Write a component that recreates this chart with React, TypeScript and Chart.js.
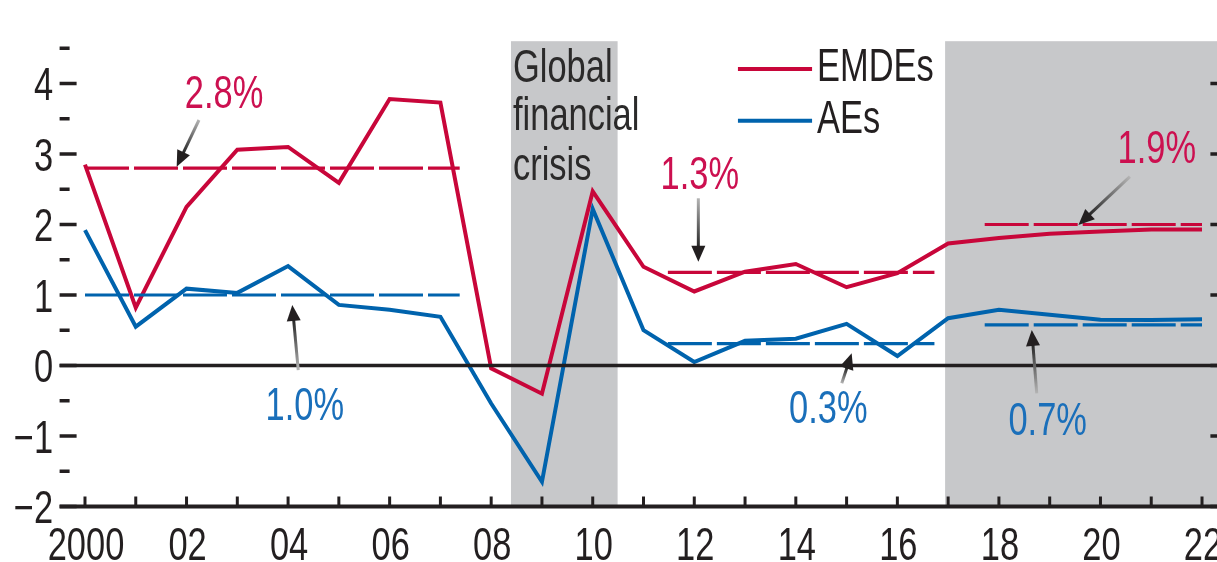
import React, { useEffect, useRef } from "react";
import { Chart, registerables } from "chart.js";

Chart.register(...registerables);

// ---------- data ----------
const years = [
  2000, 2001, 2002, 2003, 2004, 2005, 2006, 2007, 2008, 2009, 2010, 2011,
  2012, 2013, 2014, 2015, 2016, 2017, 2018, 2019, 2020, 2021, 2022,
];
const emdeGrowth = [
  2.85, 0.82, 2.25, 3.06, 3.1, 2.59, 3.78, 3.73, -0.04, -0.4, 2.47, 1.4,
  1.05, 1.33, 1.44, 1.11, 1.31, 1.73, 1.81, 1.87, 1.9, 1.93, 1.93,
];
const aeGrowth = [
  1.92, 0.55, 1.09, 1.03, 1.41, 0.86, 0.79, 0.69, -0.54, -1.65, 2.22, 0.5,
  0.05, 0.35, 0.38, 0.59, 0.135, 0.67, 0.79, 0.72, 0.65, 0.645, 0.655,
];

// period averages (dashed lines)
const avgStart = [2000, 2011.48, 2017.72];
const avgEnd = [2007.38, 2016.73, 2022];
const emdeAvg = [2.8, 1.32, 2.0];
const aeAvg = [1.0, 0.31, 0.575];
const emdeAvgLabels = ["2.8%", "1.3%", "1.9%"];
const aeAvgLabels = ["1.0%", "0.3%", "0.7%"];

// shaded periods
const shadeStart = [2008.39, 2016.94];
const shadeEnd = [2010.49, 2022.5];

// ticks
const yTickValues = [-2, -1, 0, 1, 2, 3, 4];
const yTickLabels = ["\u22122", "\u22121", "0", "1", "2", "3", "4"];
const yMinorValues = [-1.5, -0.5, 0.5, 1.5, 2.5, 3.5, 4.5];
const xTickValues = years;
const xLabelValues = [2000, 2002, 2004, 2006, 2008, 2010, 2012, 2014, 2016, 2018, 2020, 2022];
const xLabelTexts = ["2000", "02", "04", "06", "08", "10", "12", "14", "16", "18", "20", "22"];

const seriesNames = ["EMDEs", "AEs"];
const crisisText = ["Global", "financial", "crisis"];

// ---------- layout / style ----------
const RED = "#c8063a";
const BLUE = "#0063ad";
const RED_TEXT = "#cc1050";
const BLUE_TEXT = "#1a6fba";
const INK = "#231f20";
const GRAY = "#c7c8ca";
const FONT = '42px "Liberation Sans", Arial, sans-serif';
const HSCALE = 0.82;
const VSCALE = 1.1;

// label anchors in data units
const emdeLabelX = [2002.74, 2012.11, 2021.11];
const emdeLabelBase = [3.657, 2.499, 2.868];
const aeLabelX = [2004.33, 2014.64, 2018.96];
const aeLabelBase = [-0.773, -0.816, -0.986];
// arrows: tail -> tip
const emdeArrowTail = [[2002.245, 3.482], [2012.08, 2.372], [2020.58, 2.678]];
const emdeArrowTip = [[2001.806, 2.82], [2012.08, 1.472], [2019.565, 1.993]];
const aeArrowTail = [[2004.2, -0.064], [2014.905, -0.252], [2018.745, -0.394]];
const aeArrowTip = [[2004.083, 0.858], [2015.1, 0.173], [2018.647, 0.504]];

function drawText(
  ctx: CanvasRenderingContext2D,
  s: string,
  x: number,
  y: number,
  color: string,
  align: CanvasTextAlign
) {
  ctx.save();
  ctx.translate(x, y);
  ctx.scale(HSCALE, VSCALE);
  ctx.font = FONT;
  ctx.fillStyle = color;
  ctx.textAlign = align;
  ctx.textBaseline = "alphabetic";
  ctx.fillText(s, 0, 0);
  ctx.restore();
}

function drawArrow(ctx: CanvasRenderingContext2D, x1: number, y1: number, x2: number, y2: number) {
  const ang = Math.atan2(y2 - y1, x2 - x1);
  const c = Math.cos(ang);
  const s = Math.sin(ang);
  const headLen = 16;
  const headHalf = 7;
  const bx = x2 - headLen * c;
  const by = y2 - headLen * s;
  ctx.save();
  const g = ctx.createLinearGradient(x1, y1, bx, by);
  g.addColorStop(0, "#b4b4b4");
  g.addColorStop(1, "#2a2a2a");
  ctx.strokeStyle = g;
  ctx.lineWidth = 3;
  ctx.beginPath();
  ctx.moveTo(x1, y1);
  ctx.lineTo(bx + 2 * c, by + 2 * s);
  ctx.stroke();
  ctx.fillStyle = INK;
  ctx.beginPath();
  ctx.moveTo(x2, y2);
  ctx.lineTo(bx - headHalf * s, by + headHalf * c);
  ctx.lineTo(bx + headHalf * s, by - headHalf * c);
  ctx.closePath();
  ctx.fill();
  ctx.restore();
}

const decorPlugin = {
  id: "decor",
  beforeDatasetsDraw(chart: any) {
    const { ctx, chartArea, scales } = chart;
    const xs = scales.x;
    const ys = scales.y;
    ctx.save();
    ctx.fillStyle = GRAY;
    for (let i = 0; i < shadeStart.length; i++) {
      const a = xs.getPixelForValue(shadeStart[i]);
      const b = xs.getPixelForValue(shadeEnd[i]);
      ctx.fillRect(a, chartArea.top, b - a, chartArea.bottom - chartArea.top);
    }
    // crisis text
    const tx = xs.getPixelForValue(2008.43);
    const base = [4.02, 3.34, 2.63];
    crisisText.forEach((t, i) => drawText(ctx, t, tx, ys.getPixelForValue(base[i]), "#2b2a2a", "left"));
    ctx.restore();
  },
  afterDatasetsDraw(chart: any) {
    const { ctx, chartArea, scales } = chart;
    const xs = scales.x;
    const ys = scales.y;
    ctx.save();
    // zero line
    const y0 = ys.getPixelForValue(0);
    ctx.strokeStyle = INK;
    ctx.lineWidth = 3.5;
    ctx.beginPath();
    ctx.moveTo(chartArea.left, y0);
    ctx.lineTo(chartArea.right, y0);
    ctx.stroke();
    // bottom axis
    const yb = ys.getPixelForValue(-2);
    ctx.lineWidth = 4;
    ctx.beginPath();
    ctx.moveTo(chartArea.left, yb);
    ctx.lineTo(chartArea.right, yb);
    ctx.stroke();
    // x ticks (pointing up)
    ctx.lineWidth = 3;
    xTickValues.forEach((v) => {
      const x = xs.getPixelForValue(v);
      ctx.beginPath();
      ctx.moveTo(x, yb);
      ctx.lineTo(x, yb - 10);
      ctx.stroke();
    });
    // y ticks (inside, both sides)
    ctx.lineWidth = 3.5;
    yTickValues.forEach((v) => {
      const y = ys.getPixelForValue(v);
      ctx.beginPath();
      ctx.moveTo(chartArea.left, y);
      ctx.lineTo(chartArea.left + 17, y);
      ctx.moveTo(chartArea.right, y);
      ctx.lineTo(chartArea.right - 17, y);
      ctx.stroke();
    });
    yMinorValues.forEach((v) => {
      const y = ys.getPixelForValue(v);
      ctx.beginPath();
      ctx.moveTo(chartArea.left, y);
      ctx.lineTo(chartArea.left + 10, y);
      ctx.moveTo(chartArea.right, y);
      ctx.lineTo(chartArea.right - 10, y);
      ctx.stroke();
    });
    // tick labels
    yTickValues.forEach((v, i) => {
      const y = ys.getPixelForValue(v);
      drawText(ctx, yTickLabels[i], chartArea.left - 6.5, y + 16.5, INK, "right");
    });
    xLabelValues.forEach((v, i) => {
      const x = xs.getPixelForValue(v);
      drawText(ctx, xLabelTexts[i], x + 1, yb + 53.5, INK, "center");
    });
    // legend
    const lx1 = xs.getPixelForValue(2012.86);
    const lx2 = xs.getPixelForValue(2014.32);
    const legY = [ys.getPixelForValue(4.206), ys.getPixelForValue(3.472)];
    const legCol = [RED, BLUE];
    seriesNames.forEach((n, i) => {
      ctx.strokeStyle = legCol[i];
      ctx.lineWidth = 4;
      ctx.beginPath();
      ctx.moveTo(lx1, legY[i]);
      ctx.lineTo(lx2, legY[i]);
      ctx.stroke();
      drawText(ctx, n, lx2 + 5, legY[i] + 12.5, INK, "left");
    });
    // annotations
    for (let i = 0; i < emdeAvgLabels.length; i++) {
      drawArrow(
        ctx,
        xs.getPixelForValue(emdeArrowTail[i][0]),
        ys.getPixelForValue(emdeArrowTail[i][1]),
        xs.getPixelForValue(emdeArrowTip[i][0]),
        ys.getPixelForValue(emdeArrowTip[i][1])
      );
      drawText(ctx, emdeAvgLabels[i], xs.getPixelForValue(emdeLabelX[i]), ys.getPixelForValue(emdeLabelBase[i]), RED_TEXT, "center");
    }
    for (let i = 0; i < aeAvgLabels.length; i++) {
      drawArrow(
        ctx,
        xs.getPixelForValue(aeArrowTail[i][0]),
        ys.getPixelForValue(aeArrowTail[i][1]),
        xs.getPixelForValue(aeArrowTip[i][0]),
        ys.getPixelForValue(aeArrowTip[i][1])
      );
      drawText(ctx, aeAvgLabels[i], xs.getPixelForValue(aeLabelX[i]), ys.getPixelForValue(aeLabelBase[i]), BLUE_TEXT, "center");
    }
    ctx.restore();
  },
};

export default function App() {
  const ref = useRef<HTMLCanvasElement | null>(null);
  useEffect(() => {
    if (!ref.current) return;
    const avgSets: any[] = [];
    for (let i = 0; i < avgStart.length; i++) {
      avgSets.push({
        data: [
          { x: avgStart[i], y: emdeAvg[i] },
          { x: avgEnd[i], y: emdeAvg[i] },
        ],
        borderColor: RED,
        borderWidth: 3.2,
        borderDash: [44, 5],
        pointRadius: 0,
        order: 1,
      });
      avgSets.push({
        data: [
          { x: avgStart[i], y: aeAvg[i] },
          { x: avgEnd[i], y: aeAvg[i] },
        ],
        borderColor: BLUE,
        borderWidth: 3.2,
        borderDash: [44, 5],
        pointRadius: 0,
        order: 1,
      });
    }
    const chart = new Chart(ref.current, {
      type: "line",
      data: {
        datasets: [
          {
            label: seriesNames[0],
            data: years.map((x, i) => ({ x, y: emdeGrowth[i] })),
            borderColor: RED,
            borderWidth: 4,
            pointRadius: 0,
            tension: 0,
            order: 2,
          },
          {
            label: seriesNames[1],
            data: years.map((x, i) => ({ x, y: aeGrowth[i] })),
            borderColor: BLUE,
            borderWidth: 4,
            pointRadius: 0,
            tension: 0,
            order: 2,
          },
          ...avgSets,
        ],
      },
      options: {
        animation: false,
        responsive: false,
        maintainAspectRatio: false,
        devicePixelRatio: 1,
        layout: { padding: { left: 59.6, right: 12.6, top: 41.2, bottom: 55.5 } },
        plugins: { legend: { display: false }, tooltip: { enabled: false } },
        scales: {
          x: { type: "linear", min: 1999.5, max: 2022.5, display: false },
          y: { type: "linear", min: -2, max: 4.6, display: false },
        },
      },
      plugins: [decorPlugin],
    });
    return () => chart.destroy();
  }, []);
  return (
    <div
      style={{
        position: "fixed",
        left: 0,
        top: 0,
        width: 1217,
        height: 562,
        overflow: "hidden",
        background: "#fff",
      }}
    >
      <canvas ref={ref} width={1240} height={562} style={{ width: 1240, height: 562, display: "block" }} />
    </div>
  );
}
